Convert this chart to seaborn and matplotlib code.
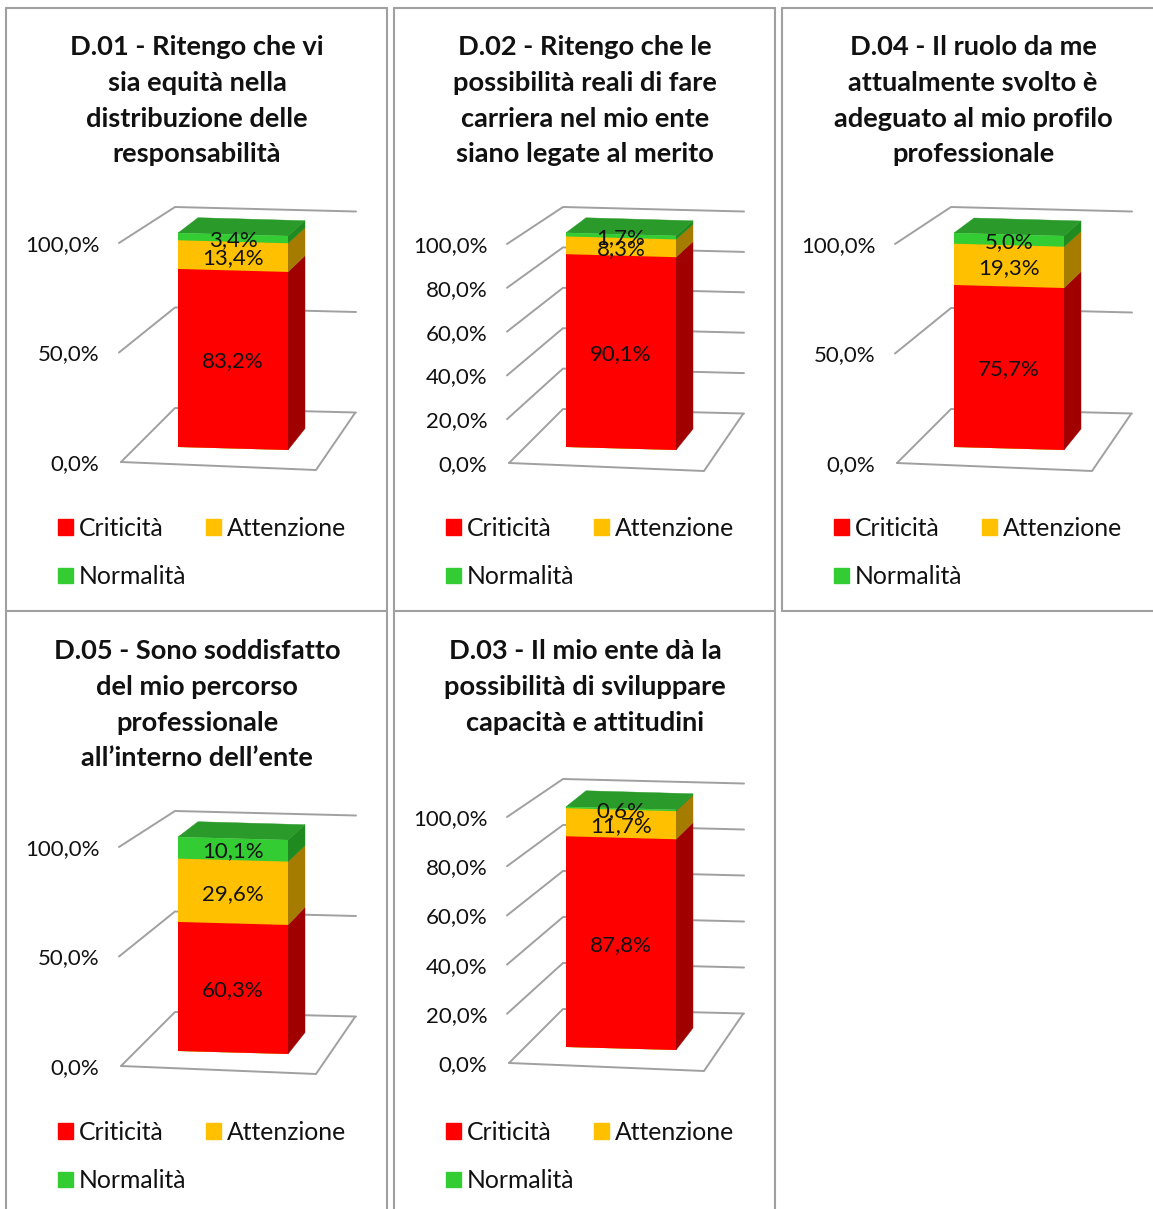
import matplotlib
matplotlib.use('Agg')
import matplotlib.pyplot as plt
from matplotlib.patches import Patch, Polygon
from matplotlib.transforms import Affine2D
import seaborn as sns

# DATI
titoli = [
    'D.01 - Ritengo che vi\nsia equità nella\ndistribuzione delle\nresponsabilità',
    'D.02 - Ritengo che le\npossibilità reali di fare\ncarriera nel mio ente\nsiano legate al merito',
    'D.04 - Il ruolo da me\nattualmente svolto è\nadeguato al mio profilo\nprofessionale',
    'D.05 - Sono soddisfatto\ndel mio percorso\nprofessionale\nall’interno dell’ente',
    'D.03 - Il mio ente dà la\npossibilità di sviluppare\ncapacità e attitudini',
]
criticita = [83.2, 90.1, 75.7, 60.3, 87.8]
attenzione = [13.4, 8.3, 19.3, 29.6, 11.7]
normalita = [3.4, 1.7, 5.0, 10.1, 0.6]
scale = [
    [0, 50, 100],
    [0, 20, 40, 60, 80, 100],
    [0, 50, 100],
    [0, 50, 100],
    [0, 20, 40, 60, 80, 100],
]
serie = ['Criticità', 'Attenzione', 'Normalità']

# COLORI
colori = ['#FF0000', '#FFC000', '#33CC33']
colori_lato = ['#A00000', '#A67C00', '#1F8A1F']
colore_top = '#2A9A2A'
grigio = '#A0A0A0'

# GEOMETRIA (pixel): origine cella, base/cima di barra, fianco, parete
W, H = 1153, 1209
celle = [
    dict(ox=0, oy=0, bar=(447, 233), lato=(428.5, 220.7), fronte=(462, 243), fondo=(408, 207)),
    dict(ox=388, oy=0, bar=(447, 233), lato=(429, 221), fronte=(463, 244), fondo=(409, 207)),
    dict(ox=776, oy=0, bar=(447, 233), lato=(429, 221), fronte=(463, 244), fondo=(409, 207)),
    dict(ox=0, oy=604, bar=(447, 233), lato=(428.5, 220.7), fronte=(462, 243), fondo=(408, 207)),
    dict(ox=388, oy=0, bar=(1047, 807), lato=(1028, 794), fronte=(1063, 817), fondo=(1009, 779)),
]
titolo_y = [35, 35, 35, 639, 639]

sns.set_style('white')
plt.rcParams['font.family'] = ['Lato', 'DejaVu Sans']

fig = plt.figure(figsize=(W / 100, H / 100), dpi=100)

tela = fig.add_axes([0, 0, 1, 1], zorder=0)
tela.set_xlim(0, W)
tela.set_ylim(H, 0)
tela.axis('off')


def scala(coppia, oy, v):
    return coppia[0] + oy + (coppia[1] - coppia[0]) * v / 100


# BORDI DELLA TABELLA
for x0, x1 in [(6, 387), (394, 775), (782, W + 5)]:
    tela.plot([x0, x1], [8, 8], color='#A0A0A0', lw=1.5)
    tela.plot([x0, x1], [611, 611], color='#A0A0A0', lw=1.5)
    tela.plot([x0, x0], [8, 611], color='#A0A0A0', lw=1.5)
    tela.plot([x1, x1], [8, 611], color='#A0A0A0', lw=1.5)
for x0, x1 in [(6, 387), (394, 775)]:
    tela.plot([x0, x0], [611, H], color='#A0A0A0', lw=1.5)
    tela.plot([x1, x1], [611, H], color='#A0A0A0', lw=1.5)

for i, titolo in enumerate(titoli):
    c = celle[i]
    ox, oy = c['ox'], c['oy']
    xl, xr = ox + 178, ox + 288

    fig.text((ox + 197) / W, 1 - titolo_y[i] / H, titolo, ha='center', va='top',
             fontsize=19.6, fontweight='bold', linespacing=1.59, color='#111111')

    # PARETI E PAVIMENTO
    for v in scale[i]:
        yf = scala(c['fronte'], oy, v)
        yb = scala(c['fondo'], oy, v)
        xs = ox + (121 if v == 0 else 119)
        tela.plot([xs, ox + 175, ox + 356], [yf, yb, yb + 4.5], color=grigio, lw=1.4, zorder=1)
    y0f = scala(c['fronte'], oy, 0)
    y0b = scala(c['fondo'], oy, 0)
    tela.plot([ox + 355, ox + 316, ox + 121], [y0b + 5, y0f + 8, y0f], color=grigio, lw=1.4, zorder=1)

    # ASSE CON LE ETICHETTE
    yt, yb = c['fronte'][1] + oy, c['fronte'][0] + oy
    asse = fig.add_axes([(ox + 119) / W, 1 - yb / H, 237 / W, (yb - yt) / H], zorder=1)
    asse.patch.set_alpha(0)
    asse.set_ylim(0, 100)
    asse.set_xticks([])
    asse.set_yticks(scale[i])
    asse.set_yticklabels([f'{v:.1f}%'.replace('.', ',') for v in scale[i]], fontsize=16, color='#111111')
    asse.tick_params(axis='y', length=0, pad=14)
    sns.despine(ax=asse, left=True, bottom=True)

    # FACCIA FRONTALE DELLA BARRA
    ytb, ybb = c['bar'][1] + oy, c['bar'][0] + oy
    ax = fig.add_axes([xl / W, 1 - ybb / H, (xr - xl) / W, (ybb - ytb) / H], zorder=2)
    ax.patch.set_alpha(0)
    valori = [criticita[i], attenzione[i], normalita[i]]
    cumulati = [sum(valori[:k + 1]) for k in range(3)]
    for k in [2, 1, 0]:
        sns.barplot(x=['barra'], y=[cumulati[k]], color=colori[k], saturation=1, width=1,
                    linewidth=0, ax=ax)
    ax.set_xlim(-0.5, 0.5)
    ax.set_ylim(0, 100)
    ax.axis('off')

    taglio = Affine2D.from_values(1, -3 / 110, 0, 1, 0, 3 / 110 * xl)
    for p in ax.patches:
        p.set_transform(ax.transData + taglio)
        p.set_clip_on(False)

    # FIANCO E CIMA DELLA BARRA
    base = 0
    for k in range(3):
        cima = cumulati[k]
        pts = [(xr, scala(c['bar'], oy, base) + 3), (xr + 17, scala(c['lato'], oy, base)),
               (xr + 17, scala(c['lato'], oy, cima)), (xr, scala(c['bar'], oy, cima) + 3)]
        tela.add_patch(Polygon(pts, closed=True, fc=colori_lato[k], ec=colori_lato[k], lw=0.3, zorder=2))
        base = cima
    totale = cumulati[-1]
    pts = [(xl, scala(c['bar'], oy, totale)), (xl + 20, scala(c['lato'], oy, totale) - 3),
           (xr + 17, scala(c['lato'], oy, totale)), (xr, scala(c['bar'], oy, totale) + 3)]
    tela.add_patch(Polygon(pts, closed=True, fc=colore_top, ec=colore_top, lw=0.3, zorder=2))

    # ETICHETTE DEI VALORI
    base = 0
    for k in range(3):
        ax.text(0, base + valori[k] / 2 - 0.9, f'{valori[k]:.1f}%'.replace('.', ','),
                transform=ax.transData + taglio, ha='center', va='center',
                fontsize=16, color='#111111', clip_on=False, zorder=5)
        base += valori[k]

    # LEGENDA
    maniglie = [Patch(color=colori[0], label=serie[0]), Patch(color=colori[2], label=serie[2]),
                Patch(color=colori[1], label=serie[1])]
    asse.legend(handles=maniglie, ncol=2, frameon=False, fontsize=17.8, loc='upper left',
                bbox_to_anchor=((ox + 58) / W, 1 - (c['oy'] + (1121 if i == 4 else 517)) / H),
                bbox_transform=fig.transFigure, borderpad=0, borderaxespad=0,
                handlelength=0.61, handleheight=0.61, handletextpad=0.24,
                columnspacing=0.8, labelspacing=1.02, labelcolor='#111111')

fig.savefig('out.png', dpi=100)
